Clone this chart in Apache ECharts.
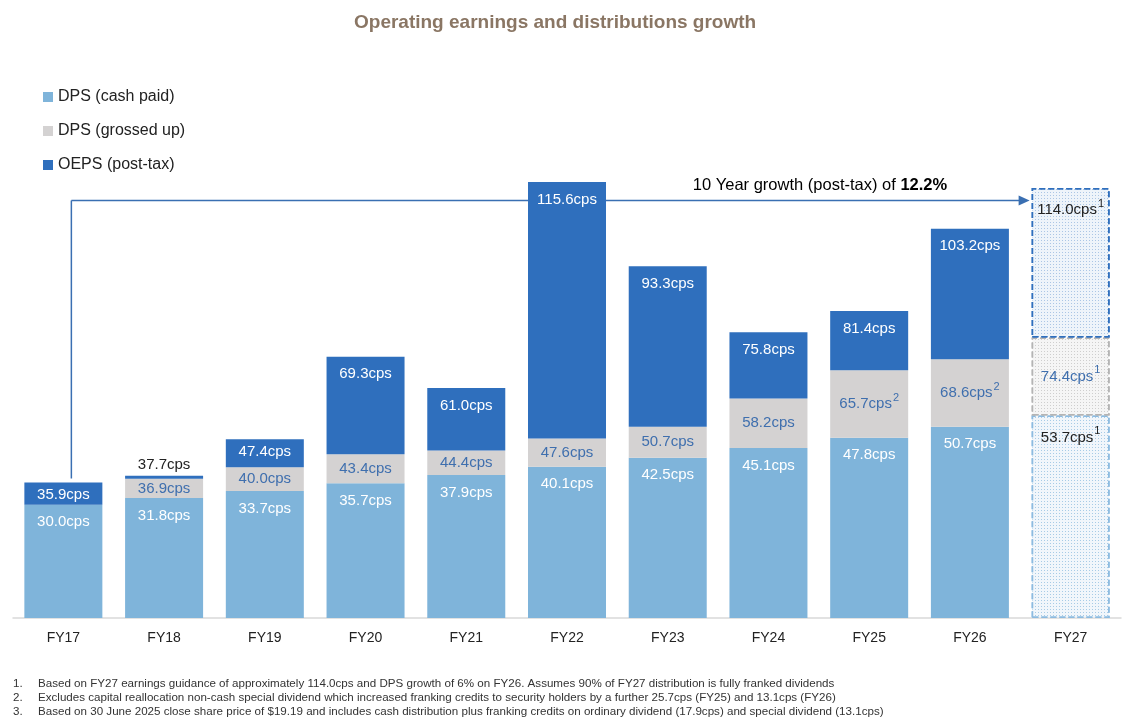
<!DOCTYPE html>
<html>
<head>
<meta charset="utf-8">
<script src="https://cdn.jsdelivr.net/npm/echarts@6/dist/echarts.min.js"></script>
<style>
  html, body { margin: 0; padding: 0; background: #fff; }
  #chart { width: 1126px; height: 727px; }
</style>
</head>
<body>
<div id="chart"></div>
<script>
// --- data --- //
const categories = ['FY17', 'FY18', 'FY19', 'FY20', 'FY21', 'FY22', 'FY23', 'FY24', 'FY25', 'FY26', 'FY27'];
const cashPaid  = [30.0, 31.8, 33.7, 35.7, 37.9, 40.1, 42.5, 45.1, 47.8, 50.7, 53.7];
const grossedUp = [null, 36.9, 40.0, 43.4, 44.4, 47.6, 50.7, 58.2, 65.7, 68.6, 74.4];
const oeps      = [35.9, 37.7, 47.4, 69.3, 61.0, 115.6, 93.3, 75.8, 81.4, 103.2, 114.0];
// footnote markers shown next to the labels
const cashNotes  = ['', '', '', '', '', '', '', '', '', '', '1'];
const grossNotes = ['', '', '', '', '', '', '', '', '2', '2', '1'];
const oepsNotes  = ['', '', '', '', '', '', '', '', '', '', '1'];
const growthText = '10 Year growth (post-tax) of ';
const growthValue = '12.2%';
const arrowLevel = 110.7;
const footnotes = [
  'Based on FY27 earnings guidance of approximately 114.0cps and DPS growth of 6% on FY26. Assumes 90% of FY27 distribution is fully franked dividends',
  'Excludes capital reallocation non-cash special dividend which increased franking credits to security holders by a further 25.7cps (FY25) and 13.1cps (FY26)',
  'Based on 30 June 2025 close share price of $19.19 and includes cash distribution plus franking credits on ordinary dividend (17.9cps) and special dividend (13.1cps)'
];

const FONT = '"Liberation Sans", Arial, sans-serif';
const C_CASH = '#7fb4da', C_GROSS = '#d4d2d2', C_OEPS = '#2f6fbd';
const BAR_W = 78;
const guidanceIdx = categories.length - 1;

function fmt(v) { return v.toFixed(1) + 'cps'; }
function richLabel(color) {
  return {
    v: { fontSize: 15, color: color, fontFamily: FONT },
    s: { fontSize: 11, color: color, fontFamily: FONT, padding: [0, 0, 13, 1] }
  };
}
function labelText(v, note) {
  return note ? '{v|' + fmt(v) + '}{s|' + note + '}' : '{v|' + fmt(v) + '}';
}
function guidanceStyle(fill, border, dot) {
  return {
    color: fill,
    borderColor: border,
    borderType: 'dashed',
    borderWidth: 1.5,
    decal: { symbol: 'rect', symbolSize: 1, dashArrayX: [1, 1.5], dashArrayY: [1, 1.5], color: dot }
  };
}

// --- stacked segments built from the read values --- //
const cashData = cashPaid.map((v, i) => {
  const item = {
    value: v,
    label: { show: true, position: 'insideTop', distance: 10, rich: richLabel(i === guidanceIdx ? '#222' : '#fff'),
      formatter: labelText(v, cashNotes[i]) }
  };
  if (i === guidanceIdx) item.itemStyle = guidanceStyle('#f1f6fb', '#8dbbe0', 'rgba(127,180,218,0.65)');
  return item;
});

const grossData = grossedUp.map((v, i) => {
  if (v == null) return { value: 0, label: { show: false } };
  const item = {
    value: +(v - cashPaid[i]).toFixed(1),
    label: { show: true, position: 'inside', rich: richLabel('#3f6fae'), formatter: labelText(v, grossNotes[i]) }
  };
  if (i === guidanceIdx) item.itemStyle = guidanceStyle('#f5f5f5', '#b4b4b4', 'rgba(180,180,180,0.6)');
  return item;
});

const oepsData = oeps.map((v, i) => {
  const below = grossedUp[i] == null ? cashPaid[i] : grossedUp[i];
  const seg = +(v - below).toFixed(1);
  let label;
  if (seg < 3) {
    label = { show: true, position: 'top', distance: 3, rich: richLabel('#222'), formatter: labelText(v, oepsNotes[i]) };
  } else {
    label = { show: true, position: 'insideTop', distance: seg < 8 ? 5 : 10,
      rich: richLabel(i === guidanceIdx ? '#222' : '#fff'), formatter: labelText(v, oepsNotes[i]) };
  }
  const item = { value: seg, label: label };
  if (i === guidanceIdx) item.itemStyle = guidanceStyle('#eef4fa', '#2f6fbd', 'rgba(47,111,189,0.35)');
  return item;
});

const chart = echarts.init(document.getElementById('chart'));

const option = {
  animation: false,
  title: {
    text: 'Operating earnings and distributions growth',
    left: 349,
    top: 8,
    textStyle: { fontSize: 19, fontWeight: 'bold', color: '#8a7664', fontFamily: FONT }
  },
  legend: {
    orient: 'vertical',
    left: 38,
    top: 84,
    itemWidth: 10,
    itemHeight: 10,
    itemGap: 18,
    icon: 'rect',
    textStyle: { fontSize: 16, color: '#222', fontFamily: FONT, lineHeight: 16 },
    data: ['DPS (cash paid)', 'DPS (grossed up)', 'OEPS (post-tax)']
  },
  grid: { left: 13, right: 5, top: 90, bottom: 109 },
  xAxis: {
    type: 'category',
    data: categories,
    axisLine: { lineStyle: { color: '#d9d9d9', width: 1.5 } },
    axisTick: { show: false },
    axisLabel: { fontSize: 14, color: '#222', margin: 13, fontFamily: FONT }
  },
  yAxis: { type: 'value', min: 0, max: 140, show: false, splitLine: { show: false } },
  series: [
    { name: 'DPS (cash paid)', type: 'bar', stack: 'eps', barWidth: BAR_W, itemStyle: { color: C_CASH }, data: cashData },
    { name: 'DPS (grossed up)', type: 'bar', stack: 'eps', barWidth: BAR_W, itemStyle: { color: C_GROSS }, data: grossData },
    { name: 'OEPS (post-tax)', type: 'bar', stack: 'eps', barWidth: BAR_W, itemStyle: { color: C_OEPS }, data: oepsData }
  ]
};
chart.setOption(option);

// --- growth arrow + footnotes, positioned from the axes --- //
const start = chart.convertToPixel({ gridIndex: 0 }, [0, oeps[0]]);
const corner = chart.convertToPixel({ gridIndex: 0 }, [0, arrowLevel]);
const end = chart.convertToPixel({ gridIndex: 0 }, [guidanceIdx, arrowLevel]);
const xLine = start[0] + 8;
const xEnd = end[0] - BAR_W / 2 - 2;
const yTop = corner[1];
const lineStyle = { stroke: '#3a6fb2', lineWidth: 1.5, fill: null };

const graphics = [
  { type: 'polyline', shape: { points: [[xLine, start[1] - 4], [xLine, yTop]] }, style: lineStyle }
];
// horizontal run passes behind taller bars: leave a gap where a bar rises above it
let runStart = xLine;
oeps.forEach((v, i) => {
  if (i === 0 || i === guidanceIdx || v <= arrowLevel) return;
  const cx = chart.convertToPixel({ gridIndex: 0 }, [i, 0])[0];
  graphics.push({ type: 'line', shape: { x1: runStart, y1: yTop, x2: cx - BAR_W / 2, y2: yTop }, style: lineStyle });
  runStart = cx + BAR_W / 2;
});
graphics.push({ type: 'line', shape: { x1: runStart, y1: yTop, x2: xEnd - 10, y2: yTop }, style: lineStyle });
graphics.push({
  type: 'polygon',
  shape: { points: [[xEnd - 11, yTop - 5], [xEnd, yTop], [xEnd - 11, yTop + 5]] },
  style: { fill: '#3a6fb2' }
});
graphics.push({
  type: 'text',
  x: 820,
  y: yTop - 15,
  style: {
    text: '{n|' + growthText + '}{b|' + growthValue + '}',
    align: 'center',
    verticalAlign: 'middle',
    rich: {
      n: { fontSize: 16.5, color: '#222', fontFamily: FONT },
      b: { fontSize: 16.5, color: '#222', fontFamily: FONT, fontWeight: 'bold' }
    }
  }
});
footnotes.forEach((t, i) => {
  graphics.push({ type: 'text', x: 13, y: 684 + i * 14,
    style: { text: (i + 1) + '.', fontSize: 11.6, fill: '#333', fontFamily: FONT, verticalAlign: 'middle' } });
  graphics.push({ type: 'text', x: 38, y: 684 + i * 14,
    style: { text: t, fontSize: 11.6, fill: '#333', fontFamily: FONT, verticalAlign: 'middle' } });
});
chart.setOption({ graphic: graphics });
</script>
</body>
</html>
